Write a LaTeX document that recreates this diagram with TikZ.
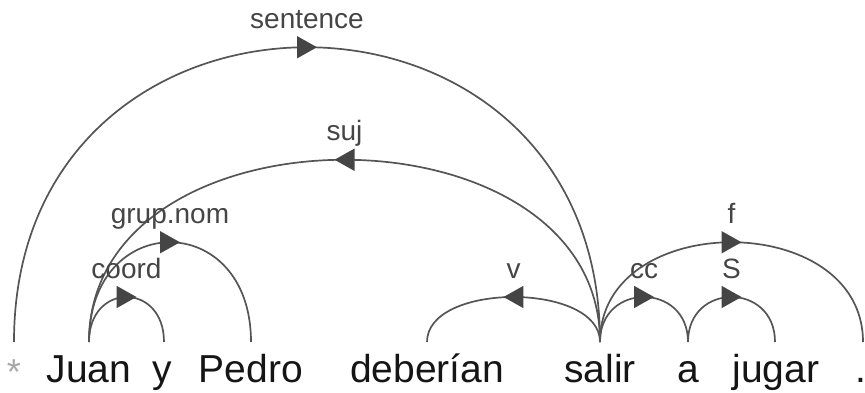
\documentclass[tikz,border=0pt]{standalone}
\usepackage{fontspec}
\setmainfont{Liberation Sans}
\usetikzlibrary{arrows.meta,decorations.markings}
\definecolor{arccol}{HTML}{555555}
\definecolor{arrcol}{HTML}{454545}
\definecolor{lblcol}{HTML}{454545}
\definecolor{wordcol}{HTML}{151515}
\definecolor{starcol}{HTML}{A8A8A8}
\begin{document}
\begin{tikzpicture}[x=1pt,y=1pt,
  word/.style={anchor=base, inner sep=0pt, text=wordcol, font=\fontsize{39}{39}\selectfont},
  lbl/.style={anchor=base, inner sep=0pt, text=lblcol, font=\fontsize{28}{28}\selectfont, yshift=19pt},
  dep/.style={draw=arccol, line width=1.7pt, postaction={decorate},
    decoration={markings, mark=at position 0.5 with {\arrow[xshift=10pt]{Triangle[length=20pt,width=22pt,color=arrcol]}}}},
  ]
\useasboundingbox (0,0) rectangle (865,392);

% words
\node[word, text=starcol, font=\fontsize{36}{36}\selectfont] (star) at (14,8) {*};
\node[word] (juan) at (89,10) {Juan};
\node[word] (y) at (162,10) {y};
\node[word] (pedro) at (251,10) {Pedro};
\node[word] (deb) at (427,10) {deberían};
\node[word] (salir) at (600,10) {salir};
\node[word] (a) at (688,10) {a};
\node[word] (jugar) at (776,10) {jugar};
\node[word, anchor=base west] (dot) at (855.5,10) {.};

% arc anchor points
\coordinate (lvl) at (0,50);
\coordinate (star-t) at (star |- lvl);
\coordinate (juan-t) at (juan |- lvl);
\coordinate (y-t) at (164,50);
\coordinate (pedro-t) at (pedro |- lvl);
\coordinate (deb-t) at (deb |- lvl);
\coordinate (salir-t) at (salir |- lvl);
\coordinate (a-t) at (a |- lvl);
\coordinate (jugar-t) at (775,50);
\coordinate (dot-t) at (863,50);

% dependencies
\draw[dep] (star-t) .. controls +(0,393) and +(0,393) .. (salir-t) node[lbl, pos=0.5] {sentence};
\draw[dep] (salir-t) .. controls +(0,243) and +(0,243) .. (juan-t) node[lbl, pos=0.5] {suj};
\draw[dep] (juan-t) .. controls +(0,133) and +(0,133) .. (pedro-t) node[lbl, pos=0.5] {grup.nom};
\draw[dep] (juan-t) .. controls +(0,60) and +(0,60) .. (y-t) node[lbl, pos=0.5] {coord};
\draw[dep] (salir-t) .. controls +(0,60) and +(0,60) .. (deb-t) node[lbl, pos=0.5] {v};
\draw[dep] (salir-t) .. controls +(0,60) and +(0,60) .. (a-t) node[lbl, pos=0.5] {cc};
\draw[dep] (a-t) .. controls +(0,60) and +(0,60) .. (jugar-t) node[lbl, pos=0.5] {S};
\draw[dep] (salir-t) .. controls +(0,133) and +(0,133) .. (dot-t) node[lbl, pos=0.5] {f};
\end{tikzpicture}
\end{document}
